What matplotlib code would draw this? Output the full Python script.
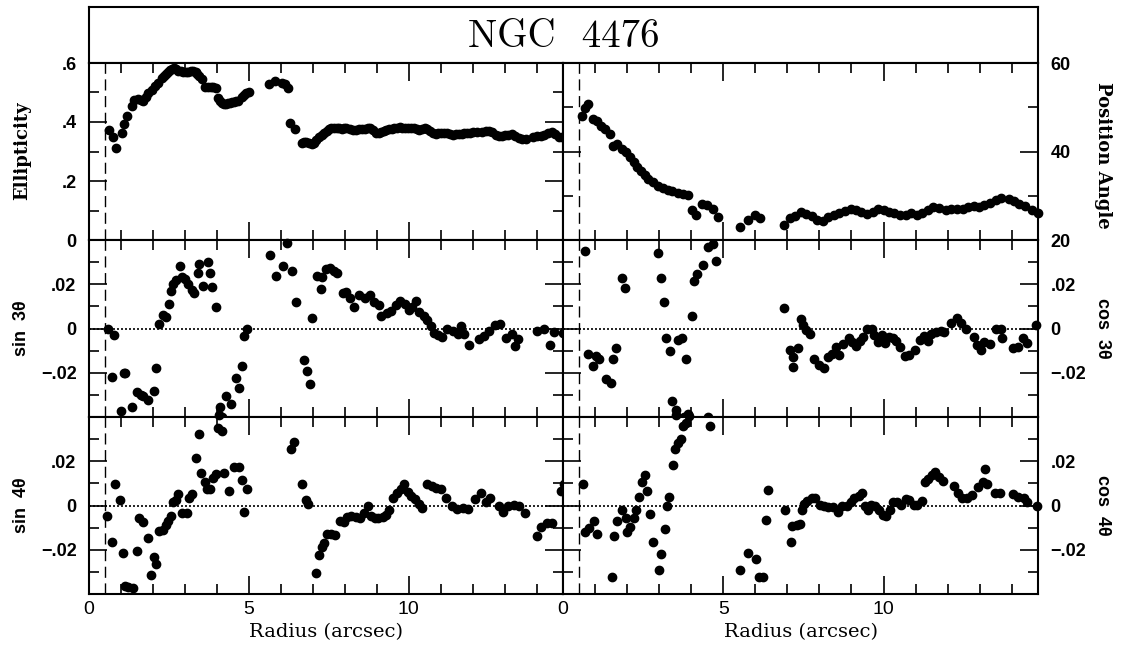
import matplotlib
matplotlib.use("Agg")
import matplotlib.pyplot as plt
from matplotlib.ticker import MultipleLocator

plt.rcParams['font.family'] = ['Liberation Sans', 'DejaVu Sans']

# --- Ellipticity (top left) ---
ell_r = [0.63, 0.76, 0.84, 1.02, 1.10, 1.18, 1.33, 1.42, 1.54, 1.62, 1.70, 1.78, 1.85, 1.96,
         2.06, 2.17, 2.27, 2.34, 2.41, 2.47, 2.53, 2.60, 2.66, 2.72, 2.79, 2.87, 2.95, 3.02,
         3.10, 3.18, 3.26, 3.33, 3.38, 3.45, 3.52, 3.63, 3.72, 3.80, 3.89, 3.97, 4.04, 4.10,
         4.15, 4.21, 4.27, 4.34, 4.41, 4.47, 4.53, 4.60, 4.67, 4.77, 4.84, 4.91, 5.01,
         5.63, 5.81, 6.02, 6.13, 6.23, 6.30, 6.44, 6.65, 6.72, 6.80, 6.88, 6.96, 7.04, 7.11,
         7.19, 7.27, 7.35, 7.43, 7.50, 7.58, 7.66, 7.74, 7.82, 7.90, 7.98, 8.05, 8.15, 8.25,
         8.34, 8.44, 8.53, 8.62, 8.71, 8.80, 8.88, 8.97, 9.06, 9.14, 9.22, 9.30, 9.38, 9.46,
         9.55, 9.64, 9.72, 9.80, 9.89, 9.98, 10.06, 10.15, 10.24, 10.32, 10.41, 10.50, 10.58,
         10.66, 10.75, 10.84, 10.92, 11.00, 11.10, 11.20, 11.29, 11.38, 11.47, 11.56, 11.65,
         11.74, 11.83, 11.92, 12.00, 12.12, 12.29, 12.40, 12.52, 12.60, 12.72, 12.81, 12.90,
         13.00, 13.10, 13.21, 13.32, 13.44, 13.55, 13.67, 13.88, 14.01, 14.12, 14.24, 14.35,
         14.47, 14.58, 14.70, 14.80]
ell = [0.373, 0.348, 0.313, 0.364, 0.392, 0.420, 0.454, 0.475, 0.477, 0.474, 0.472, 0.485,
       0.497, 0.508, 0.522, 0.533, 0.548, 0.556, 0.563, 0.570, 0.576, 0.580, 0.582, 0.578,
       0.574, 0.572, 0.571, 0.571, 0.571, 0.572, 0.573, 0.570, 0.563, 0.555, 0.545, 0.518,
       0.519, 0.520, 0.518, 0.514, 0.480, 0.470, 0.465, 0.462, 0.460, 0.463, 0.465, 0.467,
       0.469, 0.471, 0.472, 0.486, 0.492, 0.497, 0.503,
       0.529, 0.540, 0.533, 0.529, 0.514, 0.398, 0.375, 0.330, 0.332, 0.333, 0.330, 0.325,
       0.330, 0.339, 0.348, 0.356, 0.364, 0.370, 0.375, 0.379, 0.381, 0.379, 0.378, 0.377,
       0.378, 0.379, 0.377, 0.374, 0.374, 0.375, 0.376, 0.376, 0.378, 0.379, 0.372, 0.362,
       0.364, 0.367, 0.369, 0.372, 0.375, 0.377, 0.379, 0.381, 0.382, 0.381, 0.381, 0.380,
       0.379, 0.378, 0.376, 0.374, 0.376, 0.378, 0.376, 0.369, 0.362, 0.361, 0.362, 0.363,
       0.362, 0.362, 0.358, 0.357, 0.359, 0.360, 0.361, 0.362, 0.362, 0.364, 0.365, 0.366,
       0.367, 0.368, 0.368, 0.366, 0.355, 0.353, 0.354, 0.356, 0.357, 0.360, 0.352, 0.345,
       0.343, 0.342, 0.348, 0.351, 0.354, 0.357, 0.362, 0.365, 0.358, 0.349, 0.348]

# --- Position angle (top right) ---
pa_r = [0.60, 0.69, 0.77, 0.94, 1.06, 1.17, 1.31, 1.46, 1.57, 1.69, 1.83, 1.97, 2.09, 2.20,
        2.32, 2.43, 2.55, 2.66, 2.80, 2.95, 3.12, 3.29, 3.41, 3.58, 3.75, 3.90, 4.04, 4.15,
        4.33, 4.50, 4.67, 4.84, 5.53, 5.76, 5.99, 6.16, 6.90, 7.08, 7.25, 7.42, 7.59, 7.76,
        7.94, 8.11, 8.28, 8.45, 8.62, 8.80, 8.97, 9.15, 9.31, 9.48, 9.66, 9.83, 10.00, 10.17,
        10.34, 10.52, 10.69, 10.86, 11.03, 11.21, 11.38, 11.55, 11.72, 11.95, 12.12, 12.29,
        12.47, 12.64, 12.81, 12.98, 13.15, 13.33, 13.50, 13.67, 13.90, 14.07, 14.24, 14.41,
        14.64, 14.82]
pa = [48.0, 49.9, 50.7, 47.3, 46.9, 45.8, 45.0, 43.9, 41.3, 41.7, 40.6, 39.8, 38.7, 37.6,
      36.4, 35.5, 34.6, 33.8, 33.1, 32.3, 31.8, 31.4, 31.0, 30.6, 30.5, 30.1, 26.7, 25.6,
      28.2, 27.9, 27.1, 25.2, 23.0, 24.5, 25.6, 24.9, 23.4, 24.9, 25.4, 26.4, 25.8, 25.4,
      24.6, 24.3, 25.2, 25.6, 26.1, 26.5, 26.9, 26.7, 26.4, 25.8, 26.4, 26.9, 26.7, 26.4,
      26.1, 25.6, 25.6, 26.0, 25.6, 26.1, 26.7, 27.5, 27.3, 26.7, 26.9, 27.0, 27.1, 27.5,
      27.6, 27.5, 27.9, 28.4, 29.1, 29.6, 29.3, 28.8, 28.1, 27.6, 26.7, 26.0]

# --- sin 3theta (middle left) ---
s3_r = [0.60, 0.77, 0.71, 1.08, 1.14, 1.00, 1.34, 1.51, 1.62, 1.69, 1.86, 2.03, 2.11, 2.20,
        2.32, 2.41, 2.49, 2.57, 2.64, 2.72, 2.83, 2.91, 3.00, 3.10, 3.21, 3.29, 3.44, 3.41,
        3.56, 3.72, 3.78, 3.86, 3.98, 4.09, 4.15, 4.27, 4.44, 4.59, 4.70, 4.78, 4.86, 4.95,
        5.67, 5.84, 6.08, 6.19, 6.35, 6.47, 6.73, 6.82, 6.90, 6.98, 7.13, 7.25, 7.30, 7.42,
        7.53, 7.65, 7.76, 7.94, 8.05, 8.17, 8.28, 8.45, 8.62, 8.80, 8.91, 9.06, 9.14, 9.31,
        9.45, 9.60, 9.71, 9.89, 10.00, 10.11, 10.23, 10.32, 10.46, 10.57, 10.69, 10.78, 10.92,
        11.03, 11.20, 11.38, 11.55, 11.63, 11.74, 11.89, 12.18, 12.35, 12.52, 12.69, 12.86,
        13.04, 13.21, 13.33, 13.42, 14.01, 14.24, 14.41, 14.53, 14.82]
s3 = [0.0, -0.0031, -0.022, -0.020, -0.020, -0.0372, -0.0357, -0.0287, -0.0300, -0.0306,
      -0.0325, -0.0281, -0.0178, 0.0022, 0.0062, 0.0051, 0.011, 0.0168, 0.020, 0.0219,
      0.0282, 0.0231, 0.0224, 0.020, 0.0172, 0.016, 0.0293, 0.0249, 0.0194, 0.030, 0.0249,
      0.0187, 0.0096, -0.0357, -0.040, -0.0306, -0.034, -0.0222, -0.0269, -0.0169, -0.0034,
      -0.0001, 0.0331, 0.0238, 0.0282, 0.0385, 0.026, 0.0118, -0.0141, -0.0191, -0.025,
      0.0046, 0.0238, 0.0179, 0.0231, 0.0268, 0.0272, 0.026, 0.0249, 0.0162, 0.0165, 0.014,
      0.0096, 0.015, 0.0138, 0.015, 0.0121, 0.0106, 0.0057, 0.0069, 0.0081, 0.0106, 0.0125,
      0.011, 0.0084, 0.0099, 0.0124, 0.0076, 0.0057, 0.0037, 0.001, -0.0022, -0.0031,
      -0.0037, 0.0, -0.0012, -0.0026, 0.001, -0.0026, -0.0075, -0.0046, -0.0034, -0.0012,
      0.0018, 0.0022, -0.0041, -0.0026, -0.0078, -0.0046, -0.0012, -0.0001, -0.0075,
      -0.0016, -0.0019]

# --- cos 3theta (middle right) ---
c3_r = [0.69, 0.77, 0.94, 1.03, 1.11, 1.34, 1.49, 1.57, 1.66, 1.83, 1.94, 2.95, 3.06, 3.15,
        3.21, 3.33, 3.41, 3.52, 3.58, 3.72, 3.83, 3.78, 3.90, 4.04, 4.09, 4.19, 4.36, 4.52,
        4.67, 4.78, 4.52, 6.90, 7.08, 7.19, 7.18, 7.34, 7.42, 7.50, 7.59, 7.71, 7.84, 7.99,
        8.14, 8.26, 8.39, 8.51, 8.62, 8.74, 8.91, 9.03, 9.14, 9.26, 9.37, 9.48, 9.63, 9.71,
        9.83, 9.94, 10.06, 10.17, 10.29, 10.40, 10.52, 10.67, 10.80, 10.97, 11.15, 11.26,
        11.38, 11.49, 11.63, 11.78, 11.89, 12.12, 12.29, 12.43, 12.58, 12.81, 12.93, 13.04,
        13.15, 13.33, 13.50, 13.65, 13.69, 14.04, 14.19, 14.36, 14.47, 14.76]
c3 = [0.0352, -0.0114, -0.017, -0.0124, -0.0136, -0.0227, -0.0245, -0.0136, -0.0086, 0.023,
      0.0185, 0.0341, 0.0227, 0.0121, -0.0042, -0.0103, -0.0326, -0.0368, -0.0053, -0.0042,
      -0.0136, -0.040, -0.0386, 0.0058, 0.0215, 0.0245, 0.0288, 0.0367, 0.038, 0.0306,
      -0.040, 0.0091, -0.0098, -0.0129, -0.0174, -0.0088, 0.0042, 0.0015, -0.0008, -0.0027,
      -0.0136, -0.0167, -0.0179, -0.0129, -0.0114, -0.0083, -0.0118, -0.0068, -0.0045,
      -0.0061, -0.0079, -0.0058, -0.0038, 0.0, 0.0, -0.003, -0.0061, -0.003, -0.0064,
      -0.0038, -0.0045, -0.0058, -0.0083, -0.0124, -0.0118, -0.0098, -0.0053, -0.0033,
      -0.0058, -0.0027, -0.0018, -0.0012, -0.0015, 0.0023, 0.0048, 0.0023, 0.0, -0.0038,
      -0.0073, -0.0098, -0.0061, -0.0068, 0.0, 0.0, -0.0042, -0.0088, -0.0083, -0.0045,
      -0.0064, 0.0015]

# --- sin 4theta (bottom left) ---
s4_r = [0.57, 0.71, 0.80, 0.96, 1.05, 1.11, 1.22, 1.39, 1.49, 1.57, 1.68, 1.83, 1.94, 2.02,
        2.10, 2.19, 2.31, 2.40, 2.48, 2.56, 2.63, 2.71, 2.79, 2.90, 3.05, 3.13, 3.22, 3.34,
        3.43, 3.51, 3.62, 3.70, 3.79, 3.89, 3.97, 4.02, 4.16, 4.08, 4.23, 4.39, 4.54, 4.69,
        4.77, 4.85, 4.94, 6.31, 6.42, 6.67, 6.77, 6.86, 7.11, 7.20, 7.28, 7.36, 7.45, 7.57,
        7.70, 7.85, 7.97, 8.08, 8.19, 8.34, 8.48, 8.59, 8.71, 8.82, 8.94, 9.05, 9.19, 9.30,
        9.39, 9.51, 9.62, 9.74, 9.85, 9.97, 10.08, 10.19, 10.31, 10.42, 10.56, 10.71, 10.86,
        10.99, 11.17, 11.34, 11.51, 11.68, 11.85, 12.08, 12.25, 12.42, 12.54, 12.82, 12.94,
        13.11, 13.28, 13.45, 13.62, 14.02, 14.14, 14.31, 14.47, 14.77, 14.86]
s4 = [-0.0047, -0.0165, 0.0095, 0.0026, -0.0215, -0.0362, -0.0368, -0.0372, -0.0207,
      -0.0055, -0.0076, -0.0146, -0.0314, -0.0234, -0.0263, -0.0117, -0.011, -0.0088,
      -0.007, -0.0047, 0.0015, 0.0026, 0.0051, -0.0032, -0.0036, 0.0036, 0.0051, 0.0216,
      0.0324, 0.0146, 0.0105, 0.0076, 0.0073, 0.0124, 0.0143, 0.035, 0.0336, 0.041, 0.0146,
      0.0066, 0.0172, 0.0172, 0.0114, -0.0029, 0.0073, 0.0255, 0.0285, 0.0095, 0.0026,
      0.0007, -0.0304, -0.0222, -0.0187, -0.0168, -0.0128, -0.0128, -0.0134, -0.007,
      -0.0076, -0.0051, -0.0047, -0.0051, -0.0055, -0.0036, 0.0, -0.0047, -0.0055, -0.0058,
      -0.0051, -0.0041, -0.0022, 0.0032, 0.0058, 0.0076, 0.0095, 0.0061, 0.0044, 0.0029,
      0.0007, -0.0012, 0.0099, 0.0088, 0.008, 0.0073, 0.0036, 0.0, -0.0015, -0.0012,
      -0.0015, 0.0029, 0.0058, 0.0018, 0.0032, 0.0, -0.0029, 0.0, 0.0003, 0.0, -0.0036,
      -0.0139, -0.0095, -0.008, -0.008, 0.0066, 0.0095]

# --- cos 4theta (bottom right) ---
c4_r = [0.63, 0.69, 0.80, 0.97, 1.07, 1.52, 1.60, 1.70, 1.83, 1.95, 2.00, 2.10, 2.21, 2.29,
        2.37, 2.46, 2.55, 2.63, 2.71, 2.81, 2.98, 3.06, 3.17, 3.24, 3.32, 3.44, 3.49, 3.59,
        3.67, 3.75, 3.84, 3.93, 3.52, 4.58, 5.53, 5.78, 6.01, 6.10, 6.24, 6.33, 6.41, 6.93,
        7.10, 7.16, 7.30, 7.39, 7.45, 7.53, 7.62, 7.76, 7.87, 8.02, 8.13, 8.28, 8.42, 8.59,
        8.71, 8.85, 8.97, 9.08, 9.22, 9.34, 9.43, 9.51, 9.62, 9.74, 9.85, 9.97, 10.08, 10.19,
        10.31, 10.42, 10.54, 10.69, 10.80, 10.94, 11.05, 11.19, 11.28, 11.40, 11.51, 11.60,
        11.72, 11.86, 12.20, 12.31, 12.45, 12.60, 12.77, 12.94, 13.09, 13.17, 13.23, 13.48,
        13.63, 14.03, 14.20, 14.38, 14.49, 14.78]
c4 = [0.0095, -0.0119, -0.0101, -0.0071, -0.0127, -0.0323, -0.0138, -0.0071, -0.0019,
      -0.0056, -0.0119, -0.0098, -0.0056, -0.0019, 0.004, 0.0107, 0.0136, 0.0065, -0.0039,
      -0.0167, -0.0293, -0.0219, -0.0108, 0.0, 0.004, 0.0181, 0.0255, 0.0284, 0.0299,
      0.0359, 0.0373, 0.0403, 0.041, 0.0359, -0.0293, -0.0216, -0.0241, -0.0323, -0.0323,
      -0.0064, 0.007, -0.0019, -0.0167, -0.0093, -0.0089, -0.0083, -0.0019, 0.0006, 0.0021,
      0.0033, 0.0036, 0.0003, -0.0004, -0.0009, -0.0009, -0.003, -0.0004, 0.0, 0.0018,
      0.0033, 0.0044, 0.0055, 0.0, -0.0019, 0.0003, 0.0, -0.0019, -0.0041, -0.0049,
      -0.0019, 0.0018, 0.0015, 0.0003, 0.003, 0.0025, 0.0003, 0.0003, 0.0021, 0.0107,
      0.0119, 0.0136, 0.0151, 0.0129, 0.011, 0.0089, 0.0055, 0.0033, 0.0033, 0.0047,
      0.0084, 0.0107, 0.0166, 0.0095, 0.0055, 0.0055, 0.005, 0.004, 0.0036, 0.0018, 0.0]

W, H = 1121, 649
fig = plt.figure(figsize=(W / 100, H / 100), dpi=100)

cols = [(89, 563), (563, 1038)]
rows = [(63, 240), (240, 417), (417, 594)]


def make_panel(col, row):
    x0, x1 = cols[col]
    top, bot = rows[row]
    ax = fig.add_axes([x0 / W, 1 - bot / H, (x1 - x0) / W, (bot - top) / H])
    ax.set_xlim(0, 14.82)
    ax.set_xticks([0, 5, 10])
    ax.xaxis.set_minor_locator(MultipleLocator(1))
    ax.tick_params(which='both', direction='in', top=True, bottom=True,
                   left=True, right=True, width=1.2, labelsize=13)
    ax.tick_params(axis='x', which='major', length=13)
    ax.tick_params(axis='x', which='minor', length=7)
    ax.tick_params(axis='y', which='major', length=13)
    ax.tick_params(axis='y', which='minor', length=7)
    if row < 2:
        ax.tick_params(axis='x', which='both', labelbottom=False)
    else:
        ax.tick_params(axis='x', pad=5, labelsize=14)
        ax.set_xlabel('Radius (arcsec)', family='DejaVu Serif', fontsize=14, labelpad=4)
    if col == 1:
        ax.tick_params(axis='y', which='both', labelleft=False, labelright=True, pad=9)
    else:
        ax.tick_params(axis='y', which='both', pad=9)
    for s in ax.spines.values():
        s.set_linewidth(1.5)
    ax.axvline(0.5, color='black', lw=1.0, ls=(0, (8, 4)))
    return ax


def dots(ax, x, y):
    ax.plot(x, y, 'o', color='black', ms=6, mec='black', clip_on=False, zorder=3)


# title box
tax = fig.add_axes([89 / W, 1 - 63 / H, (1038 - 89) / W, 56 / H])
tax.set_xticks([])
tax.set_yticks([])
for s in tax.spines.values():
    s.set_linewidth(1.5)
tax.text(0.5, 0.47, 'NGC  4476', ha='center', va='center', fontsize=28,
         family='cmr10', transform=tax.transAxes)

# ellipticity
ax = make_panel(0, 0)
ax.set_ylim(0, 0.6)
ax.set_yticks([0, 0.2, 0.4, 0.6])
ax.set_yticklabels(['0', '.2', '.4', '.6'], fontweight='bold')
ax.yaxis.set_minor_locator(MultipleLocator(0.1))
dots(ax, ell_r, ell)

# position angle
ax = make_panel(1, 0)
ax.set_ylim(20, 60)
ax.set_yticks([20, 40, 60])
ax.set_yticklabels(['20', '40', '60'], fontweight='bold')
ax.yaxis.set_minor_locator(MultipleLocator(10))
dots(ax, pa_r, pa)

harm = [(1, 0, s3_r, s3), (1, 1, c3_r, c3), (2, 0, s4_r, s4), (2, 1, c4_r, c4)]
for row, col, xr, yv in harm:
    ax = make_panel(col, row)
    ax.set_ylim(-0.04, 0.04)
    ax.set_yticks([-0.02, 0, 0.02])
    ax.set_yticklabels(['\u2212.02', '0', '.02'], fontweight='bold')
    ax.yaxis.set_minor_locator(MultipleLocator(0.01))
    ax.axhline(0, color='black', lw=1.2, ls=(0, (1.2, 1.2)))
    dots(ax, xr, yv)

# axis names
lab = dict(fontsize=13, fontweight='bold', ha='center', va='center')
fig.text(22 / W, 1 - 151 / H, 'Ellipticity', rotation=90, family='DejaVu Serif', **lab)
fig.text(1103 / W, 1 - 155 / H, 'Position Angle', rotation=270, family='DejaVu Serif', **lab)
fig.text(22 / W, 1 - 328 / H, 'sin  3\u03b8', rotation=90, **lab)
fig.text(1103 / W, 1 - 328 / H, 'cos  3\u03b8', rotation=270, **lab)
fig.text(22 / W, 1 - 505 / H, 'sin  4\u03b8', rotation=90, **lab)
fig.text(1103 / W, 1 - 505 / H, 'cos  4\u03b8', rotation=270, **lab)

fig.savefig('out.png', dpi=100, facecolor='white')
